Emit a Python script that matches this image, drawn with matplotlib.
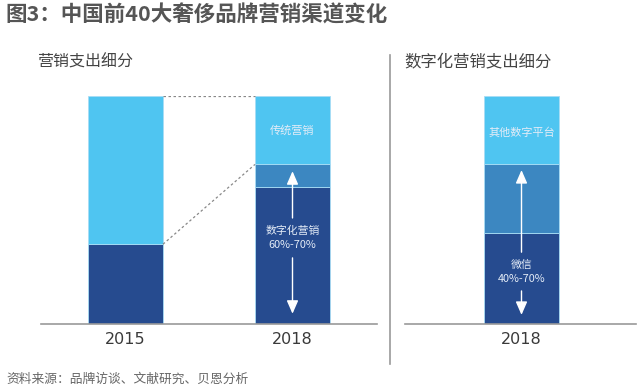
import matplotlib.pyplot as plt
from matplotlib.lines import Line2D

plt.rcParams['font.family'] = ['Noto Sans CJK SC', 'DejaVu Sans']

# 营销支出细分 (%)
years = ['2015', '2018']
dark_left = [35, 60]     # 数字化营销 (底部)
mid_left = [0, 10]
light_left = [65, 30]    # 传统营销

# 数字化营销支出细分 (%)
years_r = ['2018']
dark_right = [40]        # 微信
mid_right = [30]
light_right = [30]       # 其他数字平台

c_light = '#4FC5F1'
c_mid = '#3C87C1'
c_dark = '#264B8F'
c_text = '#555555'
edge = '#A8DDF5'
in_bar = '#E4ECF7'

W, H = 641, 390
fig = plt.figure(figsize=(W / 100, H / 100), dpi=100)

unit = 167.0  # px per category
bw = 75 / unit

def px_axes(x0, x1, y_top, y_bot):
    return fig.add_axes([x0 / W, 1 - y_bot / H, (x1 - x0) / W, (y_bot - y_top) / H])

def stack(ax, x, d, m, l):
    ax.bar(x, d, bw, color=c_dark, edgecolor=edge, linewidth=0.6)
    ax.bar(x, m, bw, bottom=d, color=c_mid, edgecolor=edge, linewidth=0.6)
    ax.bar(x, l, bw, bottom=[a + b for a, b in zip(d, m)], color=c_light,
           edgecolor=edge, linewidth=0.6)

def style(ax, labels):
    for s in ['top', 'right', 'left']:
        ax.spines[s].set_visible(False)
    ax.spines['bottom'].set_color('#9a9a9a')
    ax.spines['bottom'].set_linewidth(1.2)
    ax.set_ylim(0, 100)
    ax.set_yticks([])
    ax.set_xticks(range(len(labels)))
    ax.set_xticklabels(labels, fontsize=11.5, color='#3a3a3a', family='DejaVu Sans')
    ax.tick_params(axis='x', length=0, pad=6)
    ax.patch.set_alpha(0)

def split_arrow(ax, x, top, t_hi, t_lo, bottom):
    kw = dict(arrowstyle='-|>,head_length=0.8,head_width=0.35', color='white', lw=1.0,
              shrinkA=0, shrinkB=0)
    ax.annotate('', xy=(x, top), xytext=(x, t_hi), arrowprops=kw)
    ax.annotate('', xy=(x, bottom), xytext=(x, t_lo), arrowprops=kw)

# left panel
ax1 = px_axes(41, 377, 96, 324)
x_left = list(range(len(years)))
stack(ax1, x_left, dark_left, mid_left, light_left)
ax1.set_xlim(-84.5 / unit, (336 - 84.5) / unit)
style(ax1, years)

# dashed connectors
x_r15 = x_left[0] + bw / 2
x_l18 = x_left[1] - bw / 2
ax1.plot([x_r15, x_l18], [100, 100], ls=(0, (2, 2)), color='#888888', lw=0.9)
ax1.plot([x_r15, x_l18], [dark_left[0], dark_left[1] + mid_left[1]],
         ls=(0, (2, 2)), color='#888888', lw=0.9)

ax1.text(x_left[1], 85, '传统营销', ha='center', va='center', color=in_bar, fontsize=8)
ax1.text(x_left[1], 40.8, '数字化营销', ha='center', va='center', color=in_bar, fontsize=7.8)
ax1.text(x_left[1], 34.5, '60%-70%', ha='center', va='center', color=in_bar, fontsize=7.8)
split_arrow(ax1, x_left[1], 67, 46.5, 29, 4.5)

# right panel
ax2 = px_axes(405, 636, 96, 324)
stack(ax2, [0], dark_right, mid_right, light_right)
ax2.set_xlim(-116.5 / unit, 114.5 / unit)
style(ax2, years_r)

ax2.text(0, 84, '其他数字平台', ha='center', va='center', color=in_bar, fontsize=8)
ax2.text(0, 26, '微信', ha='center', va='center', color=in_bar, fontsize=7.8)
ax2.text(0, 19.7, '40%-70%', ha='center', va='center', color=in_bar, fontsize=7.8)
split_arrow(ax2, 0, 67.5, 31.5, 14.5, 4)

# separator
fig.add_artist(Line2D([390 / W, 390 / W], [1 - 55 / H, 1 - 364 / H],
                      color='#9a9a9a', lw=1.2))

fig.text(5 / W, 1 - 15 / H, '图3：中国前40大奢侈品牌营销渠道变化', fontsize=15.5,
         fontweight='bold', color=c_text, va='center', ha='left')
fig.text(37 / W, 1 - 62 / H, '营销支出细分', fontsize=11.5, color='#444444',
         va='center', ha='left')
fig.text(404 / W, 1 - 62 / H, '数字化营销支出细分', fontsize=11.8, color='#444444',
         va='center', ha='left')
fig.text(6 / W, 1 - 379 / H, '资料来源：品牌访谈、文献研究、贝恩分析', fontsize=9.2,
         color='#666666', style='italic', va='center', ha='left')

fig.savefig('out.png', dpi=100)
